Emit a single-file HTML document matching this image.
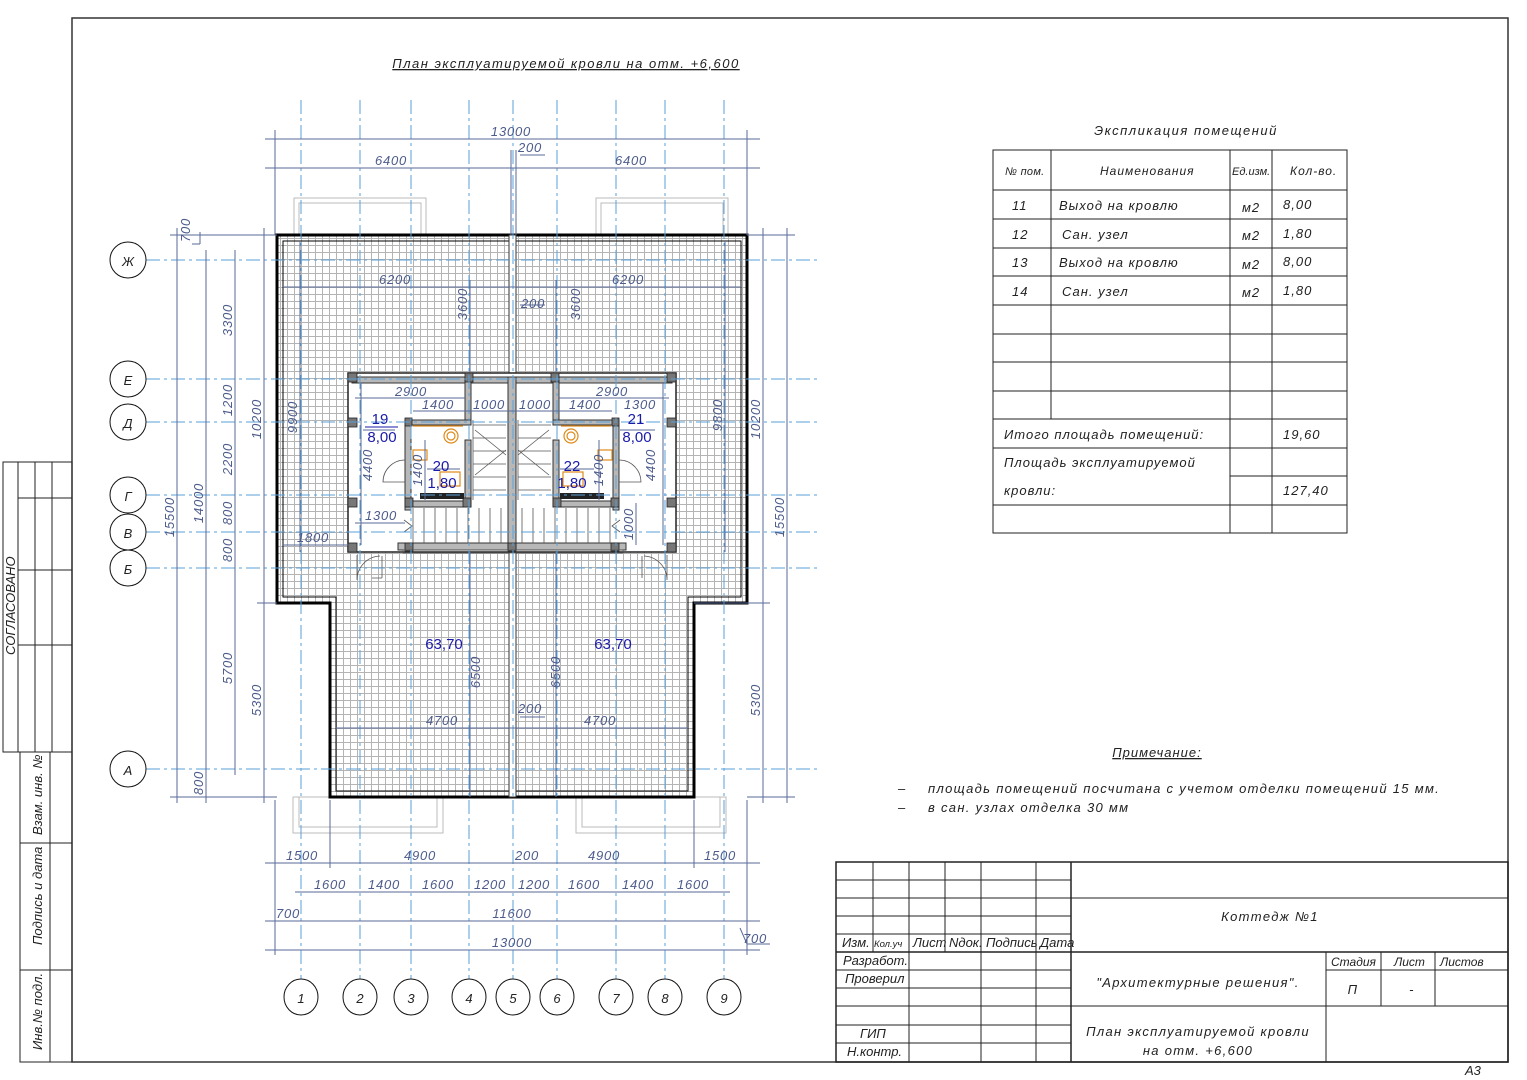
<!DOCTYPE html>
<html><head><meta charset="utf-8"><style>
html,body{margin:0;padding:0;background:#fff}
svg{display:block}
text{font-family:"Liberation Sans",sans-serif;font-style:italic}
.d{font-size:13px;fill:#4d5c8c;letter-spacing:0.8px}
.k{font-size:13px;fill:#222}
.s{letter-spacing:1px}
.ax{stroke:#5aa0d8;stroke-width:1;stroke-dasharray:14 4 3 4;fill:none}
.dl{stroke:#5a6a9a;stroke-width:1;fill:none}
.bl{stroke:#222;stroke-width:1;fill:none}
.w{fill:#b8b8b8;stroke:#333;stroke-width:1}
</style></head><body>
<svg width="1527" height="1080" viewBox="0 0 1527 1080" xmlns="http://www.w3.org/2000/svg">
<defs>
<pattern id="t" width="7" height="7" patternUnits="userSpaceOnUse">
<rect width="7" height="7" fill="#fff"/>
<path d="M0,0.5 H7 M0.5,0 V7" stroke="#b4b4b4" stroke-width="1"/>
</pattern>
</defs>
<rect x="72" y="18" width="1436" height="1044" fill="none" stroke="#333" stroke-width="1.5"/>
<g class="bl">
<rect x="3" y="462" width="69" height="290"/>
<line x1="18" y1="462" x2="18" y2="752"/>
<line x1="35" y1="462" x2="35" y2="752"/><line x1="52" y1="462" x2="52" y2="752"/>
<line x1="18" y1="498" x2="72" y2="498"/><line x1="18" y1="570" x2="72" y2="570"/><line x1="18" y1="645" x2="72" y2="645"/>
<rect x="20" y="752" width="52" height="310"/>
<line x1="50" y1="752" x2="50" y2="1062"/>
<line x1="20" y1="843" x2="72" y2="843"/><line x1="20" y1="970" x2="72" y2="970"/>
</g>
<text class="k" font-size="11" transform="translate(15,655) rotate(-90)">СОГЛАСОВАНО</text>
<text class="k" font-size="11" transform="translate(42,835) rotate(-90)">Взам. инв. №</text>
<text class="k" font-size="11" transform="translate(42,945) rotate(-90)">Подпись и дата</text>
<text class="k" font-size="11" transform="translate(42,1050) rotate(-90)">Инв.№ подл.</text>

<text class="k" x="566" y="68" font-size="13" style="letter-spacing:1.5px" text-anchor="middle" text-decoration="underline">План эксплуатируемой кровли на отм. +6,600</text>

<g stroke="#bbb" fill="none">
<rect x="294" y="198" width="132" height="40"/><rect x="299" y="203" width="122" height="35"/>
<rect x="596" y="198" width="132" height="40"/><rect x="601" y="203" width="122" height="35"/>
<rect x="293" y="797" width="150" height="36"/><rect x="299" y="797" width="138" height="30"/>
<rect x="576" y="797" width="150" height="36"/><rect x="582" y="797" width="138" height="30"/>
</g>

<path d="M277,235 H747 V603 H694 V797 H330 V603 H277 Z" fill="url(#t)" stroke="#000" stroke-width="3"/>
<path d="M283,241 H741 V597 H688 V791 H336 V597 H283 Z" fill="none" stroke="#000" stroke-width="1"/>
<rect x="509" y="235" width="7" height="562" fill="#fff" stroke="#333" stroke-width="1"/>

<rect x="348" y="373" width="328" height="179" fill="#fff" stroke="#222" stroke-width="1.5"/>
<rect x="352" y="377" width="320" height="6" class="w"/>
<rect x="398" y="543" width="228" height="7" class="w"/>
<rect x="508" y="377" width="8" height="173" class="w"/>
<rect x="465" y="377" width="6" height="45" class="w"/>
<rect x="553" y="377" width="6" height="45" class="w"/>
<rect x="405" y="420" width="66" height="5" class="w"/>
<rect x="553" y="420" width="66" height="5" class="w"/>
<rect x="405" y="420" width="6" height="90" class="w"/>
<rect x="613" y="420" width="6" height="90" class="w"/>
<rect x="405" y="501" width="66" height="6" class="w"/>
<rect x="553" y="501" width="66" height="6" class="w"/>
<rect x="465" y="440" width="6" height="67" class="w"/>
<rect x="553" y="440" width="6" height="67" class="w"/>
<g fill="#777" stroke="#222" stroke-width="0.8">
<rect x="348" y="373" width="9" height="9"/><rect x="667" y="373" width="9" height="9"/>
<rect x="348" y="418" width="9" height="9"/><rect x="667" y="418" width="9" height="9"/>
<rect x="348" y="498" width="9" height="9"/><rect x="667" y="498" width="9" height="9"/>
<rect x="348" y="543" width="9" height="9"/><rect x="667" y="543" width="9" height="9"/>
<rect x="465" y="373" width="8" height="9"/><rect x="551" y="373" width="8" height="9"/>
<rect x="405" y="498" width="8" height="9"/><rect x="611" y="498" width="8" height="9"/>
<rect x="463" y="498" width="8" height="9"/><rect x="553" y="498" width="8" height="9"/>
<rect x="405" y="418" width="7" height="8"/><rect x="612" y="418" width="7" height="8"/>
<rect x="405" y="543" width="8" height="8"/><rect x="611" y="543" width="8" height="8"/>
<rect x="508" y="543" width="8" height="8"/>
</g>
<g stroke="#555" stroke-width="0.8" fill="none">
<path d="M473,420 V500 M473,425 H506 M473,438 H506 M473,451 H506 M473,464 H506 M473,477 H506 M473,490 H506"/>
<path d="M475,430 L506,455 M475,475 L506,450"/>
<path d="M518,420 V500 M518,425 H551 M518,438 H551 M518,451 H551 M518,464 H551 M518,477 H551 M518,490 H551"/>
<path d="M549,430 L518,455 M549,475 L518,450"/>
<path d="M413,508 V543 M424,508 V543 M435,508 V543 M446,508 V543 M457,508 V543 M468,508 V543 M479,508 V543 M490,508 V543 M501,508 V543"/>
<path d="M522,508 V543 M533,508 V543 M544,508 V543 M555,508 V543 M566,508 V543 M577,508 V543 M588,508 V543 M599,508 V543 M610,508 V543"/>
<path d="M404,520 L412,526 L404,532 M620,520 L612,526 L620,532"/>
<path d="M357,555 V580 A24,24 0 0 1 380,556 M372,578 H382 M382,556 V578"/>
<path d="M667,555 V580 A24,24 0 0 0 644,556 M642,556 V578"/>
<path d="M405,460 A22,22 0 0 0 383,482 H405 M619,460 A22,22 0 0 1 641,482 H619"/>
<rect x="403" y="550" width="220" height="3"/>
</g>
<g stroke="#e08a1a" stroke-width="1.2" fill="none">
<line x1="413" y1="426" x2="463" y2="426"/><circle cx="451" cy="436" r="7"/><circle cx="451" cy="436" r="4"/>
<line x1="561" y1="426" x2="611" y2="426"/><circle cx="571" cy="436" r="7"/><circle cx="571" cy="436" r="4"/>
<rect x="413" y="450" width="14" height="10"/><rect x="598" y="450" width="14" height="10"/>
<rect x="440" y="472" width="20" height="14"/><rect x="563" y="472" width="20" height="14"/>
</g>
<rect x="420" y="493" width="44" height="6" fill="#222"/>
<rect x="560" y="493" width="44" height="6" fill="#222"/>

<g class="ax">
<line x1="301" y1="100" x2="301" y2="980"/><line x1="360" y1="100" x2="360" y2="980"/>
<line x1="411" y1="100" x2="411" y2="980"/><line x1="469" y1="100" x2="469" y2="980"/>
<line x1="513" y1="100" x2="513" y2="980"/><line x1="557" y1="100" x2="557" y2="980"/>
<line x1="616" y1="100" x2="616" y2="980"/><line x1="665" y1="100" x2="665" y2="980"/>
<line x1="724" y1="100" x2="724" y2="980"/>
<line x1="146" y1="260" x2="818" y2="260"/><line x1="146" y1="379" x2="818" y2="379"/>
<line x1="146" y1="422" x2="818" y2="422"/><line x1="146" y1="495" x2="818" y2="495"/>
<line x1="146" y1="532" x2="818" y2="532"/><line x1="146" y1="568" x2="818" y2="568"/>
<line x1="146" y1="769" x2="818" y2="769"/>
</g>
<g fill="#fff" stroke="#111" stroke-width="1">
<circle cx="128" cy="260" r="18"/><circle cx="128" cy="379" r="18"/><circle cx="128" cy="422" r="18"/>
<circle cx="128" cy="495" r="18"/><circle cx="128" cy="532" r="18"/><circle cx="128" cy="568" r="18"/>
<circle cx="128" cy="769" r="18"/>
<ellipse cx="301" cy="997" rx="17" ry="18"/><ellipse cx="360" cy="997" rx="17" ry="18"/><ellipse cx="411" cy="997" rx="17" ry="18"/>
<ellipse cx="469" cy="997" rx="17" ry="18"/><ellipse cx="513" cy="997" rx="17" ry="18"/><ellipse cx="557" cy="997" rx="17" ry="18"/>
<ellipse cx="616" cy="997" rx="17" ry="18"/><ellipse cx="665" cy="997" rx="17" ry="18"/><ellipse cx="724" cy="997" rx="17" ry="18"/>
</g>
<g class="k" font-size="17" text-anchor="middle">
<text x="128" y="266">Ж</text><text x="128" y="385">Е</text><text x="128" y="428">Д</text><text x="128" y="501">Г</text>
<text x="128" y="538">В</text><text x="128" y="574">Б</text><text x="128" y="775">А</text>
<text x="301" y="1003">1</text><text x="360" y="1003">2</text><text x="411" y="1003">3</text><text x="469" y="1003">4</text>
<text x="513" y="1003">5</text><text x="557" y="1003">6</text><text x="616" y="1003">7</text><text x="665" y="1003">8</text><text x="724" y="1003">9</text>
</g>

<g class="dl">
<line x1="265" y1="139" x2="760" y2="139"/><line x1="265" y1="168" x2="760" y2="168"/>
<line x1="275" y1="130" x2="275" y2="235"/><line x1="747" y1="130" x2="747" y2="235"/>
<line x1="511" y1="150" x2="511" y2="235"/><line x1="516" y1="150" x2="516" y2="235"/>
<line x1="520" y1="155" x2="545" y2="155"/>
<line x1="283" y1="287" x2="741" y2="287"/>
<line x1="520" y1="305" x2="545" y2="305"/>
<line x1="336" y1="728" x2="688" y2="728"/>
<line x1="520" y1="717" x2="545" y2="717"/>
<line x1="265" y1="863" x2="760" y2="863"/><line x1="295" y1="892" x2="730" y2="892"/>
<line x1="265" y1="921" x2="760" y2="921"/><line x1="265" y1="950" x2="760" y2="950"/>
<line x1="275" y1="800" x2="275" y2="955"/><line x1="747" y1="800" x2="747" y2="955"/>
<line x1="330" y1="800" x2="330" y2="868"/><line x1="694" y1="800" x2="694" y2="868"/>
<line x1="177" y1="228" x2="177" y2="803"/><line x1="206" y1="250" x2="206" y2="803"/>
<line x1="235" y1="250" x2="235" y2="775"/><line x1="264" y1="228" x2="264" y2="803"/>
<line x1="170" y1="797" x2="277" y2="797"/><line x1="170" y1="235" x2="277" y2="235"/>
<line x1="763" y1="228" x2="763" y2="803"/><line x1="787" y1="228" x2="787" y2="803"/>
<line x1="747" y1="235" x2="795" y2="235"/><line x1="747" y1="797" x2="795" y2="797"/><line x1="694" y1="603" x2="770" y2="603"/>
<line x1="257" y1="603" x2="277" y2="603"/>
<line x1="300" y1="241" x2="300" y2="552"/><line x1="725" y1="241" x2="725" y2="552"/>
<line x1="470" y1="280" x2="470" y2="372"/><line x1="556" y1="280" x2="556" y2="372"/>
<line x1="470" y1="552" x2="470" y2="797"/><line x1="556" y1="552" x2="556" y2="797"/>
<line x1="355" y1="398" x2="465" y2="398"/><line x1="559" y1="398" x2="669" y2="398"/>
<line x1="413" y1="411" x2="612" y2="411"/>
<line x1="361" y1="383" x2="361" y2="545"/><line x1="663" y1="383" x2="663" y2="545"/>
<line x1="355" y1="523" x2="405" y2="523"/><line x1="283" y1="545" x2="348" y2="545"/>
<line x1="425" y1="440" x2="425" y2="500"/><line x1="599" y1="440" x2="599" y2="500"/>
<line x1="636" y1="503" x2="636" y2="545"/>
<line x1="363" y1="430" x2="395" y2="430"/><line x1="620" y1="430" x2="655" y2="430"/>
<line x1="427" y1="469" x2="460" y2="469"/><line x1="560" y1="469" x2="594" y2="469"/>
<line x1="200" y1="232" x2="200" y2="244"/><line x1="192" y1="244" x2="200" y2="244"/>
<line x1="740" y1="928" x2="747" y2="944"/><line x1="747" y1="944" x2="770" y2="944"/>
</g>
<g class="d" text-anchor="middle">
<text x="511" y="136">13000</text><text x="391" y="165">6400</text><text x="631" y="165">6400</text>
<text x="530" y="152">200</text><text x="395" y="284">6200</text><text x="628" y="284">6200</text><text x="533" y="308">200</text>
<text x="442" y="725">4700</text><text x="600" y="725">4700</text><text x="530" y="713">200</text>
<text x="302" y="860">1500</text><text x="420" y="860">4900</text><text x="527" y="860">200</text><text x="604" y="860">4900</text><text x="720" y="860">1500</text>
<text x="330" y="889">1600</text><text x="384" y="889">1400</text><text x="438" y="889">1600</text><text x="490" y="889">1200</text>
<text x="534" y="889">1200</text><text x="584" y="889">1600</text><text x="638" y="889">1400</text><text x="693" y="889">1600</text>
<text x="288" y="918">700</text><text x="512" y="918">11600</text><text x="512" y="947">13000</text><text x="755" y="943">700</text>
<text x="411" y="396">2900</text><text x="612" y="396">2900</text>
<text x="438" y="409">1400</text><text x="489" y="409">1000</text><text x="535" y="409">1000</text><text x="585" y="409">1400</text><text x="640" y="409">1300</text>
<text x="381" y="520">1300</text><text x="313" y="542">1800</text>
</g>
<g class="d" text-anchor="middle">
<text transform="translate(174,517) rotate(-90)">15500</text>
<text transform="translate(203,503) rotate(-90)">14000</text>
<text transform="translate(232,320) rotate(-90)">3300</text>
<text transform="translate(232,400) rotate(-90)">1200</text>
<text transform="translate(232,459) rotate(-90)">2200</text>
<text transform="translate(232,513) rotate(-90)">800</text>
<text transform="translate(232,550) rotate(-90)">800</text>
<text transform="translate(232,668) rotate(-90)">5700</text>
<text transform="translate(203,783) rotate(-90)">800</text>
<text transform="translate(261,419) rotate(-90)">10200</text>
<text transform="translate(261,700) rotate(-90)">5300</text>
<text transform="translate(190,230) rotate(-90)">700</text>
<text transform="translate(297,417) rotate(-90)">9900</text>
<text transform="translate(722,415) rotate(-90)">9800</text>
<text transform="translate(760,419) rotate(-90)">10200</text>
<text transform="translate(784,517) rotate(-90)">15500</text>
<text transform="translate(760,700) rotate(-90)">5300</text>
<text transform="translate(467,304) rotate(-90)">3600</text>
<text transform="translate(580,304) rotate(-90)">3600</text>
<text transform="translate(480,672) rotate(-90)">6500</text>
<text transform="translate(560,672) rotate(-90)">6500</text>
<text transform="translate(372,465) rotate(-90)">4400</text>
<text transform="translate(655,465) rotate(-90)">4400</text>
<text transform="translate(422,470) rotate(-90)">1400</text>
<text transform="translate(603,470) rotate(-90)">1400</text>
<text transform="translate(633,524) rotate(-90)">1000</text>
</g>
<g fill="#1a1aaa" font-size="15" text-anchor="middle">
<text x="380" y="424" style="font-style:normal">19</text><text x="382" y="442" style="font-style:normal">8,00</text>
<line x1="365" y1="427" x2="398" y2="427" stroke="#1a1aaa"/>
<text x="441" y="471" style="font-style:normal">20</text><text x="442" y="488" style="font-style:normal">1,80</text>
<text x="572" y="471" style="font-style:normal">22</text><text x="572" y="488" style="font-style:normal">1,80</text>
<text x="636" y="424" style="font-style:normal">21</text><text x="637" y="442" style="font-style:normal">8,00</text>
<text x="444" y="649" style="font-style:normal">63,70</text><text x="613" y="649" style="font-style:normal">63,70</text>
</g>

<text class="k" x="1186" y="135" font-size="17" style="letter-spacing:1.5px" text-anchor="middle">Экспликация помещений</text>
<g class="bl">
<rect x="993" y="150" width="354" height="383"/>
<line x1="1051" y1="150" x2="1051" y2="419"/><line x1="1230" y1="150" x2="1230" y2="533"/><line x1="1272" y1="150" x2="1272" y2="533"/>
<line x1="993" y1="190" x2="1347" y2="190"/><line x1="993" y1="219" x2="1347" y2="219"/><line x1="993" y1="248" x2="1347" y2="248"/>
<line x1="993" y1="276" x2="1347" y2="276"/><line x1="993" y1="305" x2="1347" y2="305"/><line x1="993" y1="334" x2="1347" y2="334"/>
<line x1="993" y1="362" x2="1347" y2="362"/><line x1="993" y1="391" x2="1347" y2="391"/><line x1="993" y1="419" x2="1347" y2="419"/>
<line x1="993" y1="448" x2="1347" y2="448"/><line x1="1230" y1="476" x2="1347" y2="476"/><line x1="993" y1="505" x2="1347" y2="505"/>
</g>
<g class="k s" font-size="14">
<text x="1005" y="175" font-size="11" style="letter-spacing:0.3px">№ пом.</text><text x="1100" y="175" font-size="12">Наименования</text>
<text x="1232" y="175" font-size="11" style="letter-spacing:0">Ед.изм.</text><text x="1290" y="175" font-size="12">Кол-во.</text>
<text x="1012" y="210">11</text><text x="1059" y="210">Выход на кровлю</text><text x="1242" y="212">м2</text><text x="1283" y="209">8,00</text>
<text x="1012" y="239">12</text><text x="1062" y="239">Сан. узел</text><text x="1242" y="240">м2</text><text x="1283" y="238">1,80</text>
<text x="1012" y="267">13</text><text x="1059" y="267">Выход на кровлю</text><text x="1242" y="269">м2</text><text x="1283" y="266">8,00</text>
<text x="1012" y="296">14</text><text x="1062" y="296">Сан. узел</text><text x="1242" y="297">м2</text><text x="1283" y="295">1,80</text>
<text x="1004" y="439">Итого площадь помещений:</text><text x="1283" y="439">19,60</text>
<text x="1004" y="467">Площадь эксплуатируемой</text><text x="1004" y="495">кровли:</text><text x="1283" y="495">127,40</text>
</g>

<text class="k" x="1157" y="757" font-size="14" style="letter-spacing:1px" text-anchor="middle" text-decoration="underline">Примечание:</text>
<text class="k" x="898" y="793" font-size="13">–</text><text class="k" x="928" y="793" font-size="13" style="letter-spacing:1.3px">площадь помещений посчитана с учетом отделки помещений 15 мм.</text>
<text class="k" x="898" y="812" font-size="13">–</text><text class="k" x="928" y="812" font-size="13" style="letter-spacing:1.3px">в сан. узлах отделка 30 мм</text>

<g class="bl">
<rect x="836" y="862" width="672" height="200" stroke-width="1.5"/>
<line x1="1071" y1="862" x2="1071" y2="1062" stroke-width="1.5"/>
<line x1="873" y1="862" x2="873" y2="952"/><line x1="909" y1="862" x2="909" y2="1062"/>
<line x1="945" y1="862" x2="945" y2="952"/><line x1="981" y1="862" x2="981" y2="1062"/><line x1="1036" y1="862" x2="1036" y2="1062"/>
<line x1="836" y1="880" x2="1071" y2="880"/><line x1="836" y1="898" x2="1071" y2="898"/><line x1="836" y1="916" x2="1071" y2="916"/>
<line x1="836" y1="934" x2="1071" y2="934"/><line x1="836" y1="952" x2="1071" y2="952" stroke-width="1.5"/><line x1="836" y1="970" x2="1071" y2="970"/>
<line x1="836" y1="988" x2="1071" y2="988"/><line x1="836" y1="1006" x2="1071" y2="1006"/><line x1="836" y1="1025" x2="1071" y2="1025"/>
<line x1="836" y1="1043" x2="1071" y2="1043"/>
<line x1="1071" y1="898" x2="1508" y2="898"/><line x1="1071" y1="952" x2="1508" y2="952" stroke-width="1.5"/>
<line x1="1071" y1="1006" x2="1508" y2="1006"/>
<line x1="1326" y1="952" x2="1326" y2="1062"/><line x1="1381" y1="952" x2="1381" y2="1006"/><line x1="1435" y1="952" x2="1435" y2="1006"/>
<line x1="1326" y1="970" x2="1508" y2="970"/>
</g>
<g class="k" font-size="10">
<text x="842" y="947">Изм.</text><text x="874" y="947" font-size="9.5">Кол.уч</text><text x="913" y="947">Лист</text><text x="949" y="947">Nдок.</text>
<text x="986" y="947">Подпись</text><text x="1040" y="947">Дата</text>
<text x="843" y="965">Разработ.</text><text x="845" y="983">Проверил</text><text x="860" y="1038">ГИП</text><text x="847" y="1056">Н.контр.</text>
<text x="1331" y="966" font-size="12">Стадия</text><text x="1394" y="966" font-size="12">Лист</text><text x="1440" y="966" font-size="12">Листов</text>
</g>
<g class="k" font-size="14" text-anchor="middle" style="letter-spacing:1.3px">
<text x="1270" y="921">Коттедж №1</text>
<text x="1198" y="987">"Архитектурные решения".</text>
<text x="1353" y="994">П</text><text x="1412" y="994">-</text>
<text x="1198" y="1036">План эксплуатируемой кровли</text>
<text x="1198" y="1055">на отм. +6,600</text>
</g>
<text class="k" x="1465" y="1075" font-size="11">А3</text>
</svg>
</body></html>
